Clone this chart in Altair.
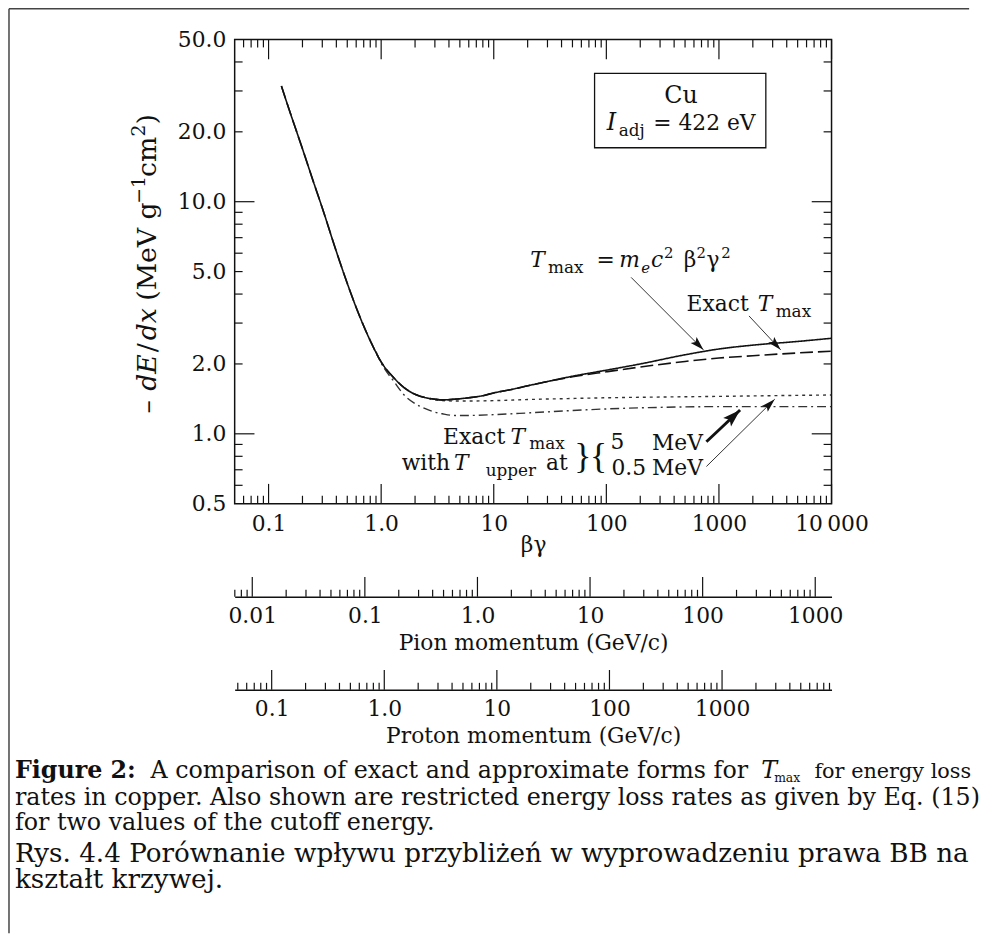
import math
import altair as alt
import pandas as pd

# ---------------- data ----------------
# Solid line: T_max = m_e c^2 beta^2 gamma^2 (approximate form)
bg_approx = [0.13, 0.15, 0.2, 0.25, 0.3, 0.4, 0.5, 0.6, 0.8, 1.0, 1.3, 1.6, 2.0, 2.5, 3.0, 3.5,
             4.5, 6.0, 8.0, 10, 15, 20, 30, 50, 100, 200, 500, 1000, 2000, 5000, 10000]
dedx_approx = [31.5, 25.5, 16.9, 12.2, 9.4, 6.1, 4.45, 3.5, 2.52, 2.04, 1.74, 1.58, 1.48, 1.43, 1.41, 1.40,
               1.41, 1.43, 1.46, 1.50, 1.56, 1.61, 1.68, 1.77, 1.88, 2.00, 2.19, 2.32, 2.41, 2.50, 2.58]

# Long dashes: exact T_max
bg_exact = [0.13, 0.15, 0.2, 0.25, 0.3, 0.4, 0.5, 0.6, 0.8, 1.0, 1.3, 1.6, 2.0, 2.5, 3.0, 3.5,
            4.5, 6.0, 8.0, 10, 15, 20, 30, 50, 100, 200, 500, 1000, 2000, 5000, 10000]
dedx_exact = [31.5, 25.5, 16.9, 12.2, 9.4, 6.1, 4.45, 3.5, 2.52, 2.04, 1.74, 1.58, 1.48, 1.43, 1.41, 1.40,
              1.41, 1.43, 1.46, 1.50, 1.56, 1.61, 1.68, 1.76, 1.85, 1.94, 2.05, 2.12, 2.17, 2.23, 2.27]

# Short dashes: restricted, upper curve
bg_upper = [2.0, 2.5, 3.0, 3.5, 4.5, 6.0, 10, 20, 50, 100, 300, 1000, 3000, 10000]
dedx_upper = [1.48, 1.43, 1.40, 1.39, 1.385, 1.385, 1.39, 1.405, 1.42, 1.43, 1.44, 1.45, 1.46, 1.47]

# Dash-dot: restricted, lower curve
bg_lower = [0.9, 1.0, 1.3, 1.6, 2.0, 2.5, 3.0, 3.5, 4.5, 6.0, 10, 20, 50, 100, 300, 1000, 3000, 10000]
dedx_lower = [2.26, 2.02, 1.68, 1.47, 1.35, 1.28, 1.24, 1.22, 1.20, 1.20, 1.21, 1.23, 1.26, 1.28, 1.30, 1.31,
              1.31, 1.31]

x_major = [0.1, 1, 10, 100, 1000, 10000]
x_labels = ["0.1", "1.0", "10", "100", "1000", "10\u2009000"]
y_values = [0.5, 1, 2, 5, 10, 20, 50]
y_labels = ["0.5", "1.0", "2.0", "5.0", "10.0", "20.0", "50.0"]
y_major = [1, 10]
pion_major = [0.01, 0.1, 1, 10, 100, 1000]
pion_labels = ["0.01", "0.1", "1.0", "10", "100", "1000"]
proton_major = [0.1, 1, 10, 100, 1000]
proton_labels = ["0.1", "1.0", "10", "100", "1000"]

M_PION = 0.13957
M_PROTON = 0.93827

# ---------------- layout / style ----------------
W, H = 603, 469
BG_DOM = [0.05, 10000]
Y_DOM = [0.5, 50]
FONT = "DejaVu Serif"
INK = "#111111"
FS = 22
SUB = 17


def minor_ticks(lo, hi):
    out = []
    for e in range(-4, 5):
        for m in range(2, 10):
            v = m * 10 ** e
            if lo * 1.0001 < v < hi * 0.9999:
                out.append(v)
    return out


def label_expr(values, labels):
    expr = "''"
    for v, l in reversed(list(zip(values, labels))):
        expr = f"abs(datum.value - {v}) < {v * 1e-3} ? '{l}' : ({expr})"
    return expr


xscale = alt.Scale(type="log", domain=BG_DOM, nice=False)
yscale = alt.Scale(type="log", domain=Y_DOM, nice=False)

xaxis = alt.Axis(values=x_major, labelExpr=label_expr(x_major, x_labels), ticks=False, domain=False,
                 grid=False, labelFont=FONT, labelFontSize=FS, labelColor=INK, labelPadding=10,
                 labelFlush=False, labelOverlap=False,
                 title="βγ", titleFont=FONT, titleFontSize=FS, titleFontWeight="normal",
                 titleColor=INK, titlePadding=0)
yaxis = alt.Axis(values=y_values, labelExpr=label_expr(y_values, y_labels), ticks=False, domain=False,
                 grid=False, labelFont=FONT, labelFontSize=FS, labelColor=INK, labelPadding=9,
                 labelFlush=False, labelOverlap=False, title="")

X = alt.X("bg:Q", scale=xscale, axis=xaxis)
Y = alt.Y("dedx:Q", scale=yscale, axis=yaxis)


def curve(bgs, vals, dash, width=1.6, color=INK):
    df = pd.DataFrame({"bg": bgs, "dedx": vals})
    return alt.Chart(df).mark_line(strokeWidth=width, color=color, strokeDash=dash, interpolate="monotone",
                                   clip=True).encode(x=X, y=Y, order="bg:Q")


def xtick(vals, length, top):
    df = pd.DataFrame({"bg": vals})
    y0 = 0 if top else H
    y1 = length if top else H - length
    return alt.Chart(df).mark_rule(color=INK, strokeWidth=1.2).encode(
        x=X, y=alt.value(y0), y2=alt.value(y1))


def ytick(vals, length, left):
    df = pd.DataFrame({"dedx": vals})
    x0 = 0 if left else W
    x1 = length if left else W - length
    return alt.Chart(df).mark_rule(color=INK, strokeWidth=1.2).encode(
        y=Y, x=alt.value(x0), x2=alt.value(x1))


def txt(bg, v, text, dx=0, dy=0, size=FS, style="normal", align="left", baseline="alphabetic",
        weight="normal", font=FONT):
    df = pd.DataFrame({"bg": [bg], "dedx": [v]})
    return alt.Chart(df).mark_text(text=text, dx=dx, dy=dy, fontSize=size, fontStyle=style,
                                   align=align, baseline=baseline, font=font, fontWeight=weight,
                                   color=INK).encode(x=X, y=Y)


def vtxt(x, y, text, size=27, style="normal"):
    # rotated piece of the y-axis title (reads bottom to top)
    return alt.Chart(pd.DataFrame({"a": [0]})).mark_text(
        text=text, angle=270, fontSize=size, fontStyle=style, align="left", baseline="alphabetic",
        font=FONT, color=INK).encode(x=alt.value(x), y=alt.value(y))


def px(bg):
    return W * (math.log10(bg) - math.log10(BG_DOM[0])) / (math.log10(BG_DOM[1]) - math.log10(BG_DOM[0]))


def py(v):
    return H * (math.log10(Y_DOM[1]) - math.log10(v)) / (math.log10(Y_DOM[1]) - math.log10(Y_DOM[0]))


def arrow(bg0, v0, bg1, v1, width=1.0, head=14, half=0.3, color="#333333"):
    ang = math.degrees(math.atan2(px(bg1) - px(bg0), -(py(v1) - py(v0)))) % 360
    line = alt.Chart(pd.DataFrame({"bg": [bg0], "dedx": [v0], "bg2": [bg1], "dedx2": [v1]})).mark_rule(
        color=color, strokeWidth=width).encode(x=X, y=Y, x2="bg2:Q", y2="dedx2:Q")
    shape = f"M0,0 L{-half},1 L0,0.8 L{half},1 Z"
    tip = alt.Chart(pd.DataFrame({"bg": [bg1], "dedx": [v1], "ang": [ang]})).mark_point(
        shape=shape, filled=True, size=(2 * head) ** 2, color=INK, opacity=1, strokeWidth=0).encode(
        x=X, y=Y, angle=alt.Angle("ang:Q", scale=None))
    return [line, tip]


layers = []
# curves
layers.append(curve(bg_exact, dedx_exact, [13, 5]))
layers.append(curve(bg_upper, dedx_upper, [3, 4], width=1.4, color="#333333"))
layers.append(curve(bg_lower, dedx_lower, [9, 4, 2, 4], width=1.4, color="#333333"))
layers.append(curve(bg_approx, dedx_approx, [1, 0]))

# inward ticks
xmin = minor_ticks(*BG_DOM)
ymin = minor_ticks(*Y_DOM)
layers += [xtick(x_major, 20, False), xtick(xmin, 8, False),
           xtick(x_major, 20, True), xtick(xmin, 8, True),
           ytick(y_major, 20, True), ytick(ymin, 8, True),
           ytick(y_major, 20, False), ytick(ymin, 8, False)]

# y-axis title: – dE / dx (MeV g^-1 cm^2), pieces laid bottom to top
TX = -79
layers += [vtxt(TX, 378, "–"),
           vtxt(TX, 355, "dE", style="italic"),
           vtxt(TX, 316, "/"),
           vtxt(TX, 304, "dx", style="italic"),
           vtxt(TX, 264, "(MeV g"),
           vtxt(TX - 12, 166, "−1", size=19),
           vtxt(TX, 139, "cm"),
           vtxt(TX - 12, 98, "2", size=19),
           vtxt(TX, 86, ")")]

# Cu box
box = alt.Chart(pd.DataFrame({"bg": [78.6], "dedx": [35.7], "bg2": [2609], "dedx2": [17.08]})).mark_rect(
    filled=False, stroke=INK, strokeWidth=1.3).encode(x=X, y=Y, x2="bg2:Q", y2="dedx2:Q")
layers.append(box)
layers.append(txt(461, 26.6, "Cu", size=24, align="center"))
layers += [txt(101, 20.4, "I", size=24, style="italic"),
           txt(101, 20.4, "adj", dx=12, dy=6, size=SUB),
           txt(101, 20.4, "= 422 eV", dx=47)]

# T_max = m_e c^2 beta^2 gamma^2
a_bg, a_v = 21.1, 5.21
layers += [txt(a_bg, a_v, "T", style="italic"),
           txt(a_bg, a_v, "max", dx=18, dy=6, size=SUB),
           txt(a_bg, a_v, "=", dx=67),
           txt(a_bg, a_v, "m", dx=90, style="italic"),
           txt(a_bg, a_v, "e", dx=112, dy=6, size=15, style="italic"),
           txt(a_bg, a_v, "c", dx=122, style="italic"),
           txt(a_bg, a_v, "2", dx=135, dy=-10, size=15),
           txt(a_bg, a_v, "β", dx=155),
           txt(a_bg, a_v, "2", dx=168, dy=-10, size=15),
           txt(a_bg, a_v, "γ", dx=178),
           txt(a_bg, a_v, "2", dx=193, dy=-10, size=15)]

# Exact T_max (upper right)
e_bg, e_v = 516, 3.38
layers += [txt(e_bg, e_v, "Exact"),
           txt(e_bg, e_v, "T", dx=72, style="italic"),
           txt(e_bg, e_v, "max", dx=90, dy=6, size=SUB)]

# Exact T_max with T_upper at { 5 MeV / 0.5 MeV
l_bg, l_v = 3.55, 0.906
layers += [txt(l_bg, l_v, "Exact"),
           txt(l_bg, l_v, "T", dx=68, style="italic"),
           txt(l_bg, l_v, "max", dx=87, dy=5, size=SUB),
           txt(l_bg, l_v, "with", dx=7, dy=27, align="right"),
           txt(l_bg, l_v, "T", dx=11, dy=27, style="italic"),
           txt(l_bg, l_v, "upper", dx=43, dy=33, size=SUB),
           txt(l_bg, l_v, "at", dx=104, dy=27),
           txt(l_bg, l_v, "}", dx=141, dy=13, size=36, align="center", baseline="middle",
               font="Liberation Serif"),
           txt(l_bg, l_v, "{", dx=157, dy=13, size=36, align="center", baseline="middle",
               font="Liberation Serif"),
           txt(l_bg, l_v, "5", dx=169, dy=5),
           txt(l_bg, l_v, "MeV", dx=211, dy=6),
           txt(l_bg, l_v, "0.5", dx=170, dy=32),
           txt(l_bg, l_v, "MeV", dx=211, dy=32)]

# arrows
layers += arrow(166, 4.72, 728, 2.30)
layers += arrow(1849, 3.22, 3532, 2.30)
layers += arrow(774, 0.924, 1541, 1.266, width=3.0, head=18, half=0.32, color=INK)
layers += arrow(774, 0.723, 3129, 1.41)

main = alt.layer(*layers).properties(
    width=W, height=H, view=alt.ViewBackground(stroke=INK, strokeWidth=1.5))


# ---------------- secondary momentum axes ----------------
def momentum_axis(mass, major, labels, title):
    lo, hi = BG_DOM[0] * mass, BG_DOM[1] * mass
    sc = alt.Scale(type="log", domain=[lo, hi], nice=False)
    ax = alt.Axis(values=major, labelExpr=label_expr(major, labels), ticks=False, domain=True,
                  domainColor=INK, domainWidth=1.5, grid=False, labelFont=FONT, labelFontSize=FS,
                  labelColor=INK, labelPadding=9, labelFlush=False, labelOverlap=False,
                  title=title, titleFont=FONT, titleFontSize=FS, titleFontWeight="normal",
                  titleColor=INK, titlePadding=6)
    Xp = alt.X("p:Q", scale=sc, axis=ax)
    maj = alt.Chart(pd.DataFrame({"p": major})).mark_rule(color=INK, strokeWidth=1.2).encode(
        x=Xp, y=alt.value(20), y2=alt.value(0))
    mnr = alt.Chart(pd.DataFrame({"p": minor_ticks(lo, hi)})).mark_rule(
        color=INK, strokeWidth=1.2).encode(x=Xp, y=alt.value(20), y2=alt.value(13))
    return alt.layer(maj, mnr).properties(
        width=W, height=20, view=alt.ViewBackground(stroke="transparent", strokeWidth=0))


pion = momentum_axis(M_PION, pion_major, pion_labels, "Pion momentum (GeV/c)")
proton = momentum_axis(M_PROTON, proton_major, proton_labels, "Proton momentum (GeV/c)")


# ---------------- caption ----------------
def ctext(x, y, text, size=24, weight="normal", style="normal", align="left", font=FONT):
    return alt.Chart(pd.DataFrame({"a": [0]})).mark_text(
        text=text, fontSize=size, fontWeight=weight, fontStyle=style, align=align, font=font,
        baseline="alphabetic", color=INK).encode(x=alt.value(x), y=alt.value(y))


CX = -222
cap_layers = [
    ctext(CX, 15, "Figure 2:", weight="bold"),
    ctext(-85, 15, "A comparison of exact and approximate forms for"),
    ctext(532, 15, "T", style="italic"),
    ctext(545, 19, "max", size=12.5),
    ctext(744, 15, "for energy loss", align="right", size=21),
    ctext(CX, 42, "rates in copper. Also shown are restricted energy loss rates as given by Eq. (15)"),
    ctext(CX, 68, "for two values of the cutoff energy."),
    ctext(CX, 100, "Rys. 4.4 Porównanie wpływu przybliżeń w wyprowadzeniu prawa BB na", size=26.5),
    ctext(CX, 126, "kształt krzywej.", size=26.5),
]
# page frame (top and left border lines)
FL = -228
frame_top = alt.Chart(pd.DataFrame({"a": [0]})).mark_rule(color="#444444", strokeWidth=1.5).encode(
    x=alt.value(FL), x2=alt.value(742), y=alt.value(-762))
frame_left = alt.Chart(pd.DataFrame({"a": [0]})).mark_rule(color="#444444", strokeWidth=1.5).encode(
    x=alt.value(FL), y=alt.value(-762), y2=alt.value(172))
caption = alt.layer(*cap_layers, frame_top, frame_left).properties(
    width=W, height=130, view=alt.ViewBackground(stroke="transparent", strokeWidth=0))

chart = alt.vconcat(main, pion, proton, caption, spacing=74, bounds="flush").properties(
    padding={"left": 0, "top": -5, "right": 0, "bottom": 0}, background="white"
).configure_view(stroke="transparent")

chart.save("out.html", embed_options={"renderer": "svg", "actions": False})
